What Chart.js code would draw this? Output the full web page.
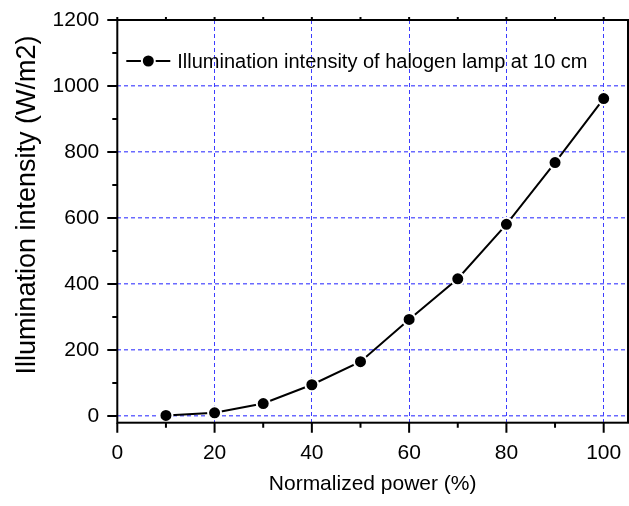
<!DOCTYPE html>
<html>
<head>
<meta charset="utf-8">
<script src="https://cdn.jsdelivr.net/npm/chart.js@4.4.1/dist/chart.umd.min.js"></script>
<style>
  html, body { margin: 0; padding: 0; background: #fff; }
</style>
</head>
<body>
<canvas id="chart" width="629" height="506"></canvas>
<script>
// values
const power = [10, 20, 30, 40, 50, 60, 70, 80, 90, 100];
const intensity = [2, 10, 38, 95, 165, 293, 416, 581, 768, 962];
const seriesLabel = 'Illumination intensity of halogen lamp at 10 cm';
const xTitle = 'Normalized power (%)';
const yTitle = 'Illumination intensity (W/m2)';
const xMajor = [0, 20, 40, 60, 80, 100];
const xMinor = [10, 30, 50, 70, 90];
const yMajor = [0, 200, 400, 600, 800, 1000, 1200];
const yMinor = [100, 300, 500, 700, 900, 1100];

const FONT = "'Liberation Sans', Arial, sans-serif";

// box, minor/major ticks, legend and y title
const framePlugin = {
    id: 'frame',
    afterDraw(chart) {
        const ctx = chart.ctx;
        const a = chart.chartArea;
        const x = chart.scales.x;
        const y = chart.scales.y;
        ctx.save();
        ctx.setLineDash([]);
        ctx.strokeStyle = '#000';
        ctx.lineWidth = 2;
        ctx.strokeRect(a.left, a.top, a.right - a.left, a.bottom - a.top);

        ctx.beginPath();
        xMajor.concat(xMinor).forEach(function (v) {
            const p = x.getPixelForValue(v);
            const len = xMajor.includes(v) ? 10 : 5;
            ctx.moveTo(p, a.bottom);
            ctx.lineTo(p, a.bottom + len);
            ctx.moveTo(p, a.top);
            ctx.lineTo(p, a.top - 3);
        });
        yMajor.concat(yMinor).forEach(function (v) {
            const p = y.getPixelForValue(v);
            const len = yMajor.includes(v) ? 10 : 5;
            ctx.moveTo(a.left, p);
            ctx.lineTo(a.left - len, p);
        });
        ctx.stroke();

        // legend inside the plot
        const ds = chart.data.datasets[0];
        const ly = a.top + 41;
        ctx.lineWidth = 2;
        ctx.beginPath();
        ctx.moveTo(a.left + 9, ly);
        ctx.lineTo(a.left + 53, ly);
        ctx.stroke();
        ctx.fillStyle = '#fff';
        ctx.beginPath();
        ctx.arc(a.left + 31, ly, 7.5, 0, Math.PI * 2);
        ctx.fill();
        ctx.fillStyle = '#000';
        ctx.beginPath();
        ctx.arc(a.left + 31, ly, 5.5, 0, Math.PI * 2);
        ctx.fill();
        ctx.font = '20px ' + FONT;
        ctx.textAlign = 'left';
        ctx.textBaseline = 'alphabetic';
        ctx.fillText(ds.label, a.left + 60, a.top + 47.5);

        // y axis title
        ctx.translate(35, 205);
        ctx.rotate(-Math.PI / 2);
        ctx.font = '27px ' + FONT;
        ctx.textAlign = 'center';
        ctx.fillText(yTitle, 0, 0);
        ctx.restore();
    }
};

const canvas = document.getElementById('chart');
new Chart(canvas, {
    type: 'line',
    data: {
        datasets: [{
            label: seriesLabel,
            data: power.map(function (p, i) { return { x: p, y: intensity[i] }; }),
            borderColor: '#000',
            borderWidth: 2,
            backgroundColor: '#000',
            pointRadius: 6.5,
            pointBorderColor: '#fff',
            pointBorderWidth: 2,
            pointBackgroundColor: '#000',
            tension: 0,
            clip: false
        }]
    },
    options: {
        responsive: false,
        animation: false,
        devicePixelRatio: 1,
        layout: { autoPadding: false, padding: { top: 20, right: 1, left: 0, bottom: 0 } },
        plugins: {
            legend: { display: false },
            tooltip: { enabled: false }
        },
        scales: {
            x: {
                type: 'linear',
                position: 'bottom',
                min: 0,
                max: 105,
                afterFit: function (s) {
                    s.height = 83.3;
                    s.paddingLeft = 0;
                    s.paddingRight = 0;
                },
                afterBuildTicks: function (s) { s.ticks = xMajor.map(function (v) { return { value: v }; }); },
                border: { display: false, dash: [4, 3] },
                grid: {
                    drawTicks: false,
                    lineWidth: 1,
                    color: '#3c3cff'
                },
                ticks: {
                    padding: 18,
                    color: '#000',
                    font: { family: FONT, size: 21 },
                    callback: function (v) { return String(v); }
                },
                title: {
                    display: true,
                    text: xTitle,
                    color: '#000',
                    font: { family: FONT, size: 21 },
                    padding: { top: 0, bottom: 9 }
                }
            },
            y: {
                min: -20,
                max: 1200,
                afterFit: function (s) {
                    s.width = 117.3;
                    s.paddingTop = 0;
                    s.paddingBottom = 0;
                },
                afterBuildTicks: function (s) { s.ticks = yMajor.map(function (v) { return { value: v }; }); },
                border: { display: false, dash: [4, 3] },
                grid: {
                    drawTicks: false,
                    lineWidth: 1.5,
                    color: 'rgba(80, 80, 255, 0.85)'
                },
                ticks: {
                    padding: 18,
                    color: '#000',
                    font: { family: FONT, size: 21 },
                    callback: function (v) { return String(v); }
                }
            }
        }
    },
    plugins: [framePlugin]
});
</script>
</body>
</html>
